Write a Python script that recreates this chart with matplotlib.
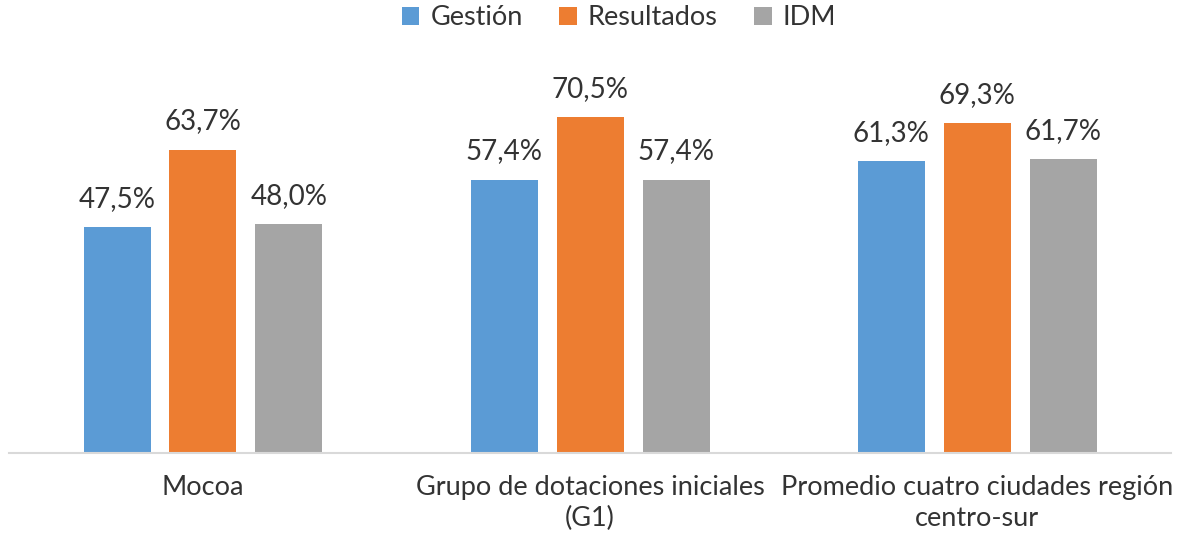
import matplotlib.pyplot as plt
import numpy as np

plt.rcParams['font.family'] = ['Lato', 'DejaVu Sans']

categorias = ['Mocoa', 'Grupo de dotaciones iniciales\n(G1)',
              'Promedio cuatro ciudades región\ncentro-sur']
series = ['Gestión', 'Resultados', 'IDM']
gestion = [47.5, 57.4, 61.3]
resultados = [63.7, 70.5, 69.3]
idm = [48.0, 57.4, 61.7]
colores = ['#5B9BD5', '#ED7D31', '#A5A5A5']
texto = '#333333'

fig = plt.figure(figsize=(11.79, 5.42), dpi=100)
ax = fig.add_axes([0.008, 0.164, 0.985, 0.703])

x = np.arange(len(categorias))
ancho = 0.173
paso = 0.222
for i, (nombre, valores) in enumerate(zip(series, [gestion, resultados, idm])):
    barras = ax.bar(x + (i - 1) * paso, valores, ancho, color=colores[i],
                    label=nombre, zorder=2)
    for b, v in zip(barras, valores):
        ax.annotate(f'{v:.1f}%'.replace('.', ','),
                    (b.get_x() + b.get_width() / 2, b.get_height()),
                    xytext=(0, 11), textcoords='offset points',
                    ha='center', va='bottom', fontsize=20, color=texto)

ax.set_xlim(-0.5, 2.5)
ax.set_ylim(0, 80)
ax.set_xticks(x)
ax.set_xticklabels(categorias, fontsize=19.5, color=texto, linespacing=1.3)
ax.tick_params(axis='x', length=0, pad=16)
ax.set_yticks([])
for s in ['top', 'right', 'left']:
    ax.spines[s].set_visible(False)
ax.spines['bottom'].set_color('#D9D9D9')
ax.spines['bottom'].set_linewidth(1.5)

leg = fig.legend(loc='upper center', bbox_to_anchor=(0.525, 1.035), ncol=3,
                 frameon=False, fontsize=19.5, handlelength=0.65,
                 handleheight=0.65, handletextpad=0.4, columnspacing=1.35)
for t in leg.get_texts():
    t.set_color(texto)

plt.savefig('out.png', dpi=100)
